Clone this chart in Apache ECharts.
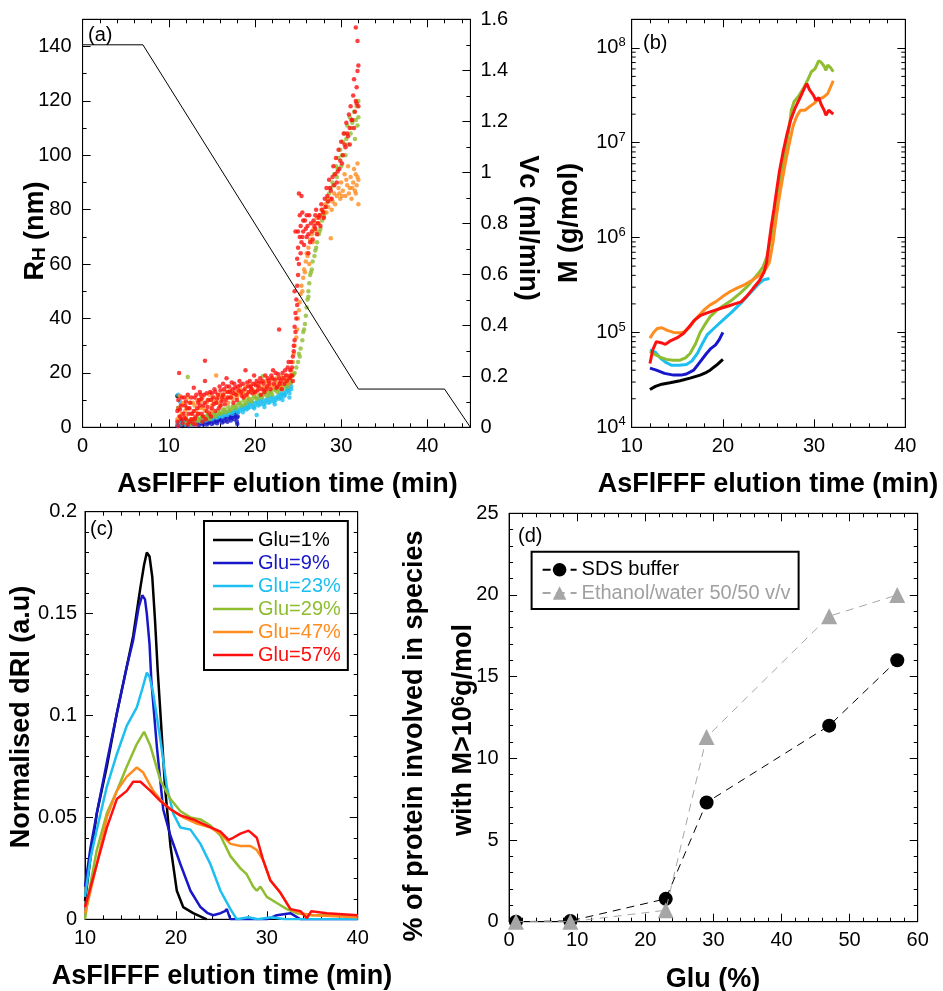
<!DOCTYPE html>
<html><head><meta charset="utf-8">
<script src="https://cdn.jsdelivr.net/npm/echarts@6.0.0/dist/echarts.min.js"></script>
<style>html,body{margin:0;padding:0;background:#fff}#c{width:943px;height:991px}</style>
</head><body><div id="c"></div><script>
// ---------- DATA ----------
const gluNames = ['Glu=1%', 'Glu=9%', 'Glu=23%', 'Glu=29%', 'Glu=47%', 'Glu=57%'];
const gluColors = ['#000000', '#1717c9', '#1cbff0', '#8fbd30', '#ff8c1f', '#ff1010'];

const rhGlu1 = [[11.0,11.5],[11.1,7],[11.2,1],[11.4,2.5],[11.6,0.5]];
const rhGlu9 = [[11.0,0.5],[11.2,1.5],[11.4,0.8],[11.7,2],[12.0,1],[12.3,0.5],[12.6,1.8],[12.9,1],[13.2,2.2],[13.5,0.8],[13.8,1.5],[14.1,2.5],[14.4,1],[14.7,2],[15.0,1.2],[15.3,2.8],[15.6,1.5],[15.9,3],[16.2,1.8],[16.5,3.5],[16.8,2],[17.0,4],[17.2,2.5],[17.4,5],[17.6,3],[17.8,5.5],[17.9,2],[18.0,4],
  [11.1,1],[11.5,1.5],[11.9,1.5],[12.2,1.2],[12.5,1],[12.8,2],[13.1,1.5],[13.4,1.8],[13.7,2],[14.0,1],[14.3,2],[14.6,1.5],[14.9,2.5],[15.2,1.8],[15.5,2.2],[15.8,2.5],[16.1,2.8],[16.4,2.2],[16.7,3],[17.1,3.5],[17.3,3.5],[17.5,4.2],[17.7,4.5],[17.9,3.5],[18.0,5.5],[17.95,1.2]];
const rhGlu23 = [[11.0,1],[11.1,12],[11.2,2],[11.3,9.5],[11.5,1.5],[11.8,2.5],[12.0,1],[12.3,2],[12.6,1.5],[12.9,2.5],[13.2,2],[13.5,3],[13.8,2.5],[14.1,3.5],[14.4,3],[14.7,4],[15.0,3],[15.3,4.5],[15.6,3.5],[15.9,5],[16.2,4],[16.5,5.5],[16.8,4.5],[17.1,6],[17.4,5],[17.7,6.5],[18.0,5.5],[18.3,7],[18.6,6.5],[18.9,8],[19.2,7],[19.5,8.5],[19.8,7.5],[20.1,9],[20.2,4.5],[20.4,8],[20.7,9.5],[21.0,8.5],[21.3,10],[21.6,9],[21.9,10.5],[22.2,9.5],[22.5,11],[22.8,10.5],[23.1,12],[23.4,11.5],[23.6,13],[23.8,14.5],[24.0,12.5],[24.1,16],[24.2,14],
  [11.4,1],[11.7,1.5],[12.1,2],[12.5,1],[12.8,2],[13.1,1.5],[13.4,2.5],[13.7,2],[14.0,3],[14.3,2.5],[14.6,3.5],[14.9,3.5],[15.2,3.5],[15.5,4],[15.8,4],[16.1,4.5],[16.4,4.5],[16.7,5],[17.0,5.5],[17.3,5.5],[17.6,6],[17.9,6.5],[18.2,6],[18.5,7.5],[18.8,7],[19.1,8],[19.4,7.5],[19.7,9],[20.0,8],[20.3,9.5],[20.6,8.5],[20.9,10],[21.2,9],[21.5,10.5],[21.8,9.5],[22.1,11],[22.4,10],[22.7,11.5],[23.0,11],[23.3,12.5],[23.5,12],[23.7,14],[23.9,13.5],[24.2,15],
  [18.6,5.5],[19.0,6.5],[19.3,9],[19.9,7],[20.5,10.5],[21.1,7.5],[21.7,11.5],[22.3,8.5],[22.9,12.5],[23.2,10],[23.6,15.5],[24.0,11]];
const rhGlu29 = [[12.0,1.5],[12.2,2.5],[12.2,18.5],[12.5,1],[12.8,3],[13.0,2],[13.3,3.5],[13.6,2.5],[13.9,4],[14.2,3],[14.5,4.5],[14.8,3.5],[15.1,5],[15.4,4],[15.7,6],[16.0,5],[16.3,6.5],[16.6,5.5],[16.9,7.5],[17.2,6.5],[17.5,8],[17.8,7],[18.1,9],[18.4,8],[18.7,10],[19.0,9],[19.3,10.5],[19.6,9.5],[19.9,11.5],[20.2,10.5],[20.5,12],[20.9,18.8],[20.8,11],[21.1,12.5],[21.4,11.5],[21.7,13],[22.0,12],[22.3,14],[22.6,13],[22.9,15],[23.2,14],[23.5,16],[23.8,15],[24.0,17.5],[24.2,16.5],[24.4,19],[24.6,20],[24.8,22],[25.0,24],[25.1,27],[25.3,29],[25.5,32],[25.6,35],[25.8,38],[25.9,41],[26.0,44],[26.1,47],[26.2,50],[26.3,53],[26.4,56],[26.6,58],[26.7,61],[26.9,63],[27.0,65],[27.2,68],[27.4,71],[27.6,73],[27.8,76],[28.0,78],[28.2,81],[28.4,83],[28.6,86],[28.8,88],[29.0,90],[29.2,93],[29.4,96],[29.5,92],[29.7,99],[29.9,102],[30.0,96],[30.2,105],[30.4,108],[30.5,100],[30.7,111],[30.8,104],[31.0,114],[31.1,108],[31.3,112],[31.5,116],[31.6,106],[31.8,118],[31.9,111],[32.0,120],[32.0,114],
  [12.4,2],[12.9,1.5],[13.4,2.5],[13.8,3.5],[14.3,4],[14.7,3],[15.2,4.5],[15.6,5],[16.1,5.5],[16.5,6.5],[17.0,6],[17.4,7.5],[17.9,8],[18.3,9],[18.8,8.5],[19.2,10],[19.7,10.5],[20.1,11],[20.6,11.5],[21.0,12],[21.5,12.5],[21.9,13],[22.4,13.5],[22.8,14],[23.3,15],[23.7,16],[24.1,18],[24.5,19.5],[25.2,26],[25.7,36],[26.2,48],[26.5,57],[27.1,66],[27.5,72],[28.1,79],[28.5,84],[29.1,89],[29.6,95],[30.1,100],[30.6,106],[31.2,110],[31.7,113]];
const rhGlu47 = [[11.0,3],[11.1,7],[11.3,11.5],[11.5,5],[11.7,9],[12.0,4],[12.2,11],[12.3,7],[12.6,5],[12.8,9],[13.1,6],[13.3,10],[13.6,7],[13.9,11],[14.2,6],[14.4,9],[14.7,12],[15.0,8],[15.3,11],[15.5,19],[15.6,9],[15.9,12],[16.2,10],[16.5,13],[16.8,11],[17.1,13.5],[17.4,10.5],[17.7,13],[18.0,12],[18.3,14],[18.6,12.5],[18.9,15],[19.2,13],[19.5,15.5],[19.8,13.5],[20.1,16],[20.4,14],[20.7,16.5],[21.0,14.5],[21.3,17],[21.6,15],[21.9,17.5],[22.2,15.5],[22.5,18],[22.8,16],[23.1,18.5],[23.4,17],[23.7,19],[24.0,18],[24.2,21],[24.4,24],[24.5,27],[24.6,30],[24.8,33],[24.9,36],[25.0,40],[25.1,43],[25.2,46],[25.3,49],[25.4,52],[25.6,55],[25.7,58],[25.9,61],[26.0,64],[26.2,66],[26.4,69],[26.6,71],[26.8,73],[27.0,75],[27.2,77],[27.5,78],[27.7,80],[28.0,79],[28.2,82],[28.5,81],[28.8,69.5],[28.7,84],[29.0,83],[29.2,86],[29.5,85],[29.7,88],[29.9,84],[30.0,90],[30.2,87],[30.4,93],[30.5,85],[30.7,89],[30.8,96],[31.0,88],[31.1,92],[31.2,84],[31.4,90],[31.5,95],[31.6,87],[31.7,93],[31.8,89],[31.9,97],[32.0,82],[32.0,91],
  [11.2,4],[11.6,8],[11.9,6],[12.4,9],[12.7,3],[13.0,8],[13.4,5],[13.7,9.5],[14.0,7],[14.5,10],[14.9,6],[15.2,9.5],[15.8,11],[16.0,8],[16.4,11.5],[16.9,9],[17.3,12],[17.9,11],[18.2,12.5],[18.7,13.5],[19.1,11.5],[19.6,14],[20.0,12.5],[20.5,15],[21.1,13.5],[21.5,16],[22.0,14.5],[22.6,16.5],[23.0,15],[23.6,17.5],[23.9,16],[24.3,19],[25.5,50],[25.8,57],[26.1,63],[26.3,60],[26.7,68],[27.1,72],[27.4,75],[27.9,77],[28.3,79],[28.9,80],[29.3,82],[29.8,86],[30.1,85],[30.6,91],[30.9,86],[31.3,88],[31.7,86],[31.9,92]];
const rhGlu57 = [[11.0,2],[11.0,6],[11.1,10],[11.1,0.5],[11.2,20],[11.3,4],[11.4,8],[11.5,3],[11.6,1.5],[11.7,5],[11.8,11],[11.9,8],[12.0,3],[12.1,7],[12.2,12],[12.3,5],[12.4,2],[12.5,9],[12.6,11],[12.7,5],[12.8,1.5],[12.9,14.5],[13.0,11],[13.1,4],[13.2,1],[13.3,7],[13.4,9],[13.5,10],[13.6,13],[13.7,12],[13.8,5],[13.9,2],[14.0,8],[14.1,12],[14.2,17],[14.2,24.5],[14.3,3],[14.4,6],[14.6,10],[14.8,13],[14.9,4],[15.0,7],[15.1,11],[15.3,14],[15.4,6],[15.5,9],[15.7,12],[15.9,15],[16.0,8],[16.2,11],[16.3,16],[16.4,14],[16.6,10],[16.7,18],[16.8,13],[17.0,15],[17.2,11],[17.4,14],[17.5,9],[17.6,16],[17.8,12],[18.0,15],[18.2,17],[18.4,13],[18.6,16],[18.7,11],[18.9,21],[19.0,12],[19.2,15],[19.4,17],[19.6,14],[19.8,16],[19.9,19],[20.0,13],[20.2,17],[20.4,15],[20.6,18],[20.8,14],[21.0,16],[21.1,13],[21.2,19],[21.4,15],[21.6,17],[21.8,14],[22.0,18],[22.1,21],[22.2,16],[22.4,20],[22.6,15],[22.8,36],[22.8,18],[23.0,17],[23.1,14],[23.2,20],[23.4,16],[23.6,19],[23.8,22],[23.9,24],[24.0,18],[24.1,21],[24.2,24],[24.3,19],[24.4,26],[24.5,28],[24.6,32],[24.6,37],[24.6,50],[24.7,42],[24.7,72],[24.8,47],[24.9,52],[24.9,62],[25.0,66],[25.0,72],[25.0,56],[25.1,86],[25.2,70],[25.2,78],[25.3,74],[25.4,85],[25.4,68],[25.5,79],[25.6,72],[25.8,76],[26.0,70],[26.1,74],[26.3,78],[26.4,68],[26.6,72],[26.8,76],[27.0,73],[27.1,80],[27.3,75],[27.5,78],[27.7,82],[27.9,79],[28.1,84],[28.3,88],[28.5,83],[28.6,91],[28.8,87],[29.0,92],[29.1,96],[29.2,89],[29.4,99],[29.6,94],[29.7,102],[29.9,98],[30.0,105],[30.2,100],[30.3,108],[30.5,103],[30.6,112],[30.8,107],[30.9,115],[31.0,110],[31.1,118],[31.3,113],[31.4,122],[31.5,128],[31.6,116],[31.7,147],[31.7,120],[31.8,125],[31.9,142],[31.9,131],[32.0,133],[32.0,118],
  [11.3,6.5],[11.5,11],[11.8,3.5],[12.0,9.5],[12.2,1],[12.4,7],[12.6,3],[12.9,6],[13.0,3],[13.2,12],[13.4,5],[13.6,8],[13.8,10.5],[14.0,4],[14.2,9],[14.4,12.5],[14.5,7.5],[14.7,5],[14.9,10],[15.0,12.5],[15.2,8.5],[15.4,13],[15.6,10.5],[15.8,7],[16.0,13.5],[16.1,9.5],[16.3,12],[16.5,8.5],[16.7,15],[16.9,11],[17.1,13],[17.3,16.5],[17.5,12.5],[17.7,14.5],[17.9,10],[18.1,13.5],[18.3,15.5],[18.5,11.5],[18.8,14],[19.1,16.5],[19.3,13],[19.5,15],[19.7,12.5],[20.1,15.5],[20.3,13.5],[20.5,16.5],[20.7,12],[20.9,17],[21.3,14],[21.5,18],[21.7,16],[21.9,19],[22.3,17.5],[22.5,14.5],[22.7,19.5],[22.9,16],[23.3,18],[23.5,21],[23.7,17],[24.1,19],[24.3,22],[24.4,17],
  [25.3,64],[25.5,70],[25.6,76],[25.7,67],[25.9,73],[26.0,78],[26.2,64],[26.2,71],[26.5,75],[26.7,69],[26.9,74],[27.0,78],[27.2,71],[27.4,77],[27.6,74],[27.8,80],[28.0,77],[28.2,81],[28.4,85],[28.7,88],[28.9,84],[29.3,93],[29.5,90],[29.8,95],[30.1,97],[30.4,104],[30.7,108],[31.0,104],[31.2,113],[31.5,110],[31.8,119],[25.1,60],[24.9,45],[24.8,40],[24.7,35],[24.5,30]];
const rhSeries = [rhGlu1, rhGlu9, rhGlu23, rhGlu29, rhGlu47, rhGlu57];

const vcTime = [0, 7, 32, 42, 45];
const vcFlow = [1.5, 1.5, 0.15, 0.15, 0];

const mGlu1 = [[12.0,2.5e4],[12.6,2.7e4],[13.3,2.85e4],[14.2,2.95e4],[15.3,3.1e4],[16.4,3.3e4],[17.5,3.55e4],[18.2,3.8e4],[18.6,4.0e4],[19.0,4.3e4],[19.4,4.6e4],[19.7,4.9e4],[20.0,5.2e4]];
const mGlu9 = [[12.0,4.2e4],[12.7,4.0e4],[13.6,3.7e4],[14.6,3.55e4],[15.4,3.55e4],[16.0,3.65e4],[16.8,4.0e4],[17.5,4.9e4],[18.2,6.0e4],[18.7,6.8e4],[19.2,7.4e4],[19.6,8.4e4],[20.0,1.0e5]];
const mGlu23 = [[12.0,6.5e4],[12.6,6.2e4],[13.2,5.3e4],[13.8,4.8e4],[14.4,4.5e4],[15.2,4.5e4],[16.0,4.6e4],[16.6,5.0e4],[17.2,6.0e4],[17.8,7.8e4],[18.3,9.5e4],[19.0,1.1e5],[20.0,1.35e5],[21.0,1.65e5],[22.0,2.05e5],[23.0,2.6e5],[24.0,3.3e5],[24.5,3.6e5],[25.1,3.7e5]];
const mGlu29 = [[12.0,6.3e4],[12.5,5.9e4],[13.1,5.5e4],[13.8,5.2e4],[14.5,5.1e4],[15.3,5.1e4],[15.9,5.4e4],[16.4,6.0e4],[17.0,7.6e4],[17.5,1.0e5],[18.0,1.2e5],[18.6,1.47e5],[19.3,1.7e5],[20.0,1.9e5],[21.0,2.2e5],[21.9,2.6e5],[22.6,3.0e5],[23.3,3.6e5],[23.9,4.2e5],[24.4,4.9e5],[24.8,6.2e5],[25.2,9e5],[25.5,1.4e6],[25.8,2.2e6],[26.1,3.3e6],[26.4,4.6e6],[26.7,6.5e6],[27.0,1.0e7],[27.3,1.5e7],[27.5,2.2e7],[27.8,2.7e7],[28.3,3.1e7],[28.8,3.7e7],[29.3,4.6e7],[29.7,5.6e7],[30.1,6.0e7],[30.5,7.3e7],[30.8,7.0e7],[31.1,6.4e7],[31.3,5.8e7],[31.5,6.6e7],[31.8,6.2e7],[32.1,5.6e7]];
const mGlu47 = [[12.0,8.7e4],[12.4,1.0e5],[12.8,1.1e5],[13.3,1.12e5],[13.9,1.05e5],[14.6,1.0e5],[15.3,0.99e5],[15.8,1.02e5],[16.4,1.15e5],[16.9,1.35e5],[17.5,1.55e5],[18.0,1.75e5],[18.6,1.95e5],[19.2,2.1e5],[20.0,2.4e5],[20.8,2.7e5],[21.6,2.95e5],[22.4,3.2e5],[23.2,3.55e5],[24.0,4.0e5],[24.6,4.5e5],[25.1,5.5e5],[25.5,9e5],[25.8,1.5e6],[26.1,2.4e6],[26.5,4.0e6],[26.9,6.5e6],[27.3,1.0e7],[27.7,1.5e7],[28.1,1.9e7],[28.5,2.2e7],[29.0,2.2e7],[29.5,2.4e7],[30.0,2.6e7],[30.5,2.9e7],[31.0,3.0e7],[31.5,3.3e7],[32.1,4.5e7]];
const mGlu57 = [[12.0,4.7e4],[12.3,6.5e4],[12.7,8.0e4],[13.2,7.8e4],[13.7,7.5e4],[14.3,8.2e4],[15.0,8.8e4],[15.7,9.8e4],[16.3,1.15e5],[16.9,1.35e5],[17.5,1.5e5],[18.2,1.6e5],[19.0,1.7e5],[19.8,1.8e5],[20.6,1.9e5],[21.3,2.0e5],[22.0,2.1e5],[22.6,2.4e5],[23.3,2.9e5],[24.0,3.5e5],[24.5,4.3e5],[24.8,5.5e5],[25.0,8e5],[25.3,1.3e6],[25.6,2.0e6],[25.9,3.2e6],[26.2,5.0e6],[26.6,8.0e6],[27.0,1.2e7],[27.4,1.7e7],[27.9,2.3e7],[28.4,2.9e7],[28.9,3.7e7],[29.2,4.2e7],[29.5,3.6e7],[29.9,3.2e7],[30.2,2.8e7],[30.5,3.0e7],[30.8,2.5e7],[31.1,2.2e7],[31.3,1.95e7],[31.6,2.2e7],[31.8,2.1e7],[32.1,2.0e7]];
const mSeries = [mGlu1, mGlu9, mGlu23, mGlu29, mGlu47, mGlu57];

const dGlu1 = [[10.0,0.009],[10.6,0.03],[11.3,0.052],[12.4,0.075],[13.5,0.101],[14.6,0.124],[15.3,0.139],[16.1,0.163],[16.5,0.174],[16.8,0.180],[17.1,0.178],[17.4,0.168],[17.7,0.147],[18.0,0.122],[18.3,0.101],[18.8,0.065],[19.4,0.036],[20.1,0.014],[20.8,0.006],[21.9,0.003],[23.4,0.0]];
const dGlu9 = [[10.0,0.016],[10.6,0.035],[11.3,0.052],[12.4,0.077],[13.5,0.101],[14.6,0.124],[15.3,0.137],[15.9,0.153],[16.3,0.159],[16.6,0.157],[16.8,0.150],[17.1,0.135],[17.3,0.117],[17.9,0.085],[18.6,0.054],[19.4,0.041],[20.5,0.027],[21.6,0.014],[22.7,0.006],[23.5,0.003],[24.1,0.002],[24.9,0.003],[25.4,0.004],[25.6,0.005],[26.0,0.0],[30.0,0.0],[31.1,0.002],[32.6,0.003],[33.7,0.0],[40.0,0.0]];
const dGlu23 = [[10.0,0.011],[10.6,0.03],[11.3,0.044],[12.4,0.065],[13.5,0.081],[14.6,0.095],[15.7,0.104],[16.3,0.113],[16.8,0.121],[17.1,0.119],[17.5,0.111],[18.3,0.088],[19.0,0.065],[19.7,0.052],[20.5,0.045],[21.6,0.044],[22.7,0.037],[23.8,0.027],[24.9,0.014],[26.0,0.005],[26.7,0.0],[28.0,0.001],[29.0,0.0],[30.5,0.001],[32.0,0.0],[40.0,0.0]];
const dGlu29 = [[10.0,0.0],[10.5,0.015],[11.3,0.034],[12.4,0.052],[13.5,0.063],[14.6,0.075],[15.7,0.086],[16.5,0.092],[17.2,0.085],[18.3,0.068],[19.4,0.059],[20.5,0.053],[21.6,0.050],[22.7,0.049],[23.8,0.046],[24.9,0.041],[26.0,0.031],[27.1,0.025],[27.8,0.022],[28.5,0.016],[28.9,0.014],[29.3,0.016],[30.0,0.011],[31.1,0.008],[32.2,0.005],[33.3,0.003],[35.0,0.002],[40.0,0.002]];
const dGlu47 = [[10.0,0.003],[10.5,0.012],[11.3,0.027],[12.4,0.050],[13.5,0.063],[14.6,0.070],[15.7,0.0745],[16.4,0.072],[17.5,0.063],[18.6,0.057],[19.7,0.053],[20.8,0.050],[22.3,0.047],[23.8,0.045],[24.9,0.042],[26.0,0.037],[27.1,0.036],[28.2,0.036],[28.9,0.034],[29.6,0.029],[30.4,0.019],[31.5,0.013],[32.6,0.005],[33.7,0.003],[35.1,0.002],[40.0,0.001]];
const dGlu57 = [[10.0,0.006],[10.5,0.014],[11.3,0.027],[12.4,0.045],[13.5,0.059],[14.6,0.063],[15.3,0.0675],[16.1,0.0675],[17.2,0.063],[18.3,0.058],[19.4,0.054],[20.5,0.051],[21.9,0.049],[23.4,0.046],[24.9,0.043],[25.8,0.039],[26.3,0.040],[27.1,0.042],[28.0,0.0435],[28.9,0.040],[29.6,0.029],[30.4,0.019],[31.5,0.013],[32.6,0.005],[33.7,0.004],[34.4,0.0005],[34.9,0.004],[36.6,0.003],[40.0,0.002]];
const dSeries = [dGlu1, dGlu9, dGlu23, dGlu29, dGlu47, dGlu57];

const gluPct = [1, 9, 23, 29, 47, 57];
const sdsPct = [0, 0.05, 1.4, 7.3, 12.0, 16.0];
const ethPct = [0, 0, 0.7, 11.3, 18.7, 20.0];

// ---------- CHART ----------
const FONT = '"Liberation Sans", Arial, Helvetica, sans-serif';
const chart = echarts.init(document.getElementById('c'));

function ax(o) {
  const a = {
    type: o.type || 'value', gridIndex: o.g, position: o.pos,
    min: o.min, max: o.max,
    axisLine: {show: true, onZero: false, lineStyle: {color: '#000', width: 1}},
    axisTick: {show: true, inside: true, length: 8, lineStyle: {color: '#000', width: 1}},
    minorTick: {show: !!o.minor, splitNumber: o.minor || 5, length: 4, lineStyle: {color: '#000', width: 1}},
    splitLine: {show: false},
    axisLabel: {show: !!o.label, color: '#000', fontFamily: FONT, fontSize: 20, margin: o.margin || 9}
  };
  if (o.interval != null) a.interval = o.interval;
  if (o.hideAbove != null) a.axisLabel.formatter = v => (v > o.hideAbove ? '' : String(v));
  if (o.formatter) a.axisLabel.formatter = o.formatter;
  if (o.rich) a.axisLabel.rich = o.rich;
  return a;
}
const xAxis = [
  ax({g: 0, pos: 'bottom', min: 0, max: 45, interval: 10, minor: 5, label: true, hideAbove: 40}),
  ax({g: 0, pos: 'top', min: 0, max: 45, interval: 10, minor: 5}),
  ax({g: 1, pos: 'bottom', min: 10, max: 40, interval: 10, minor: 5, label: true}),
  ax({g: 1, pos: 'top', min: 10, max: 40, interval: 10, minor: 5}),
  ax({g: 2, pos: 'bottom', min: 10, max: 40, interval: 10, minor: 5, label: true}),
  ax({g: 2, pos: 'top', min: 10, max: 40, interval: 10, minor: 5}),
  ax({g: 3, pos: 'bottom', min: 0, max: 60, interval: 10, minor: 5, label: true, margin: 8.5}),
  ax({g: 3, pos: 'top', min: 0, max: 60, interval: 10, minor: 5})
];
const logFmt = v => {
  const e = Math.log10(v);
  if (Math.abs(e - Math.round(e)) > 1e-6) return '';
  return '{b|10}{s|' + Math.round(e) + '}';
};
const logRich = {
  b: {fontFamily: FONT, fontSize: 20, lineHeight: 20, color: '#000'},
  s: {fontFamily: FONT, fontSize: 13, lineHeight: 13, padding: [0, 0, 11, 0], color: '#000'}
};
const yAxis = [
  ax({g: 0, pos: 'left', min: 0, max: 150, interval: 20, minor: 2, label: true, hideAbove: 140, margin: 11}),
  ax({g: 0, pos: 'right', min: 0, max: 1.6, interval: 0.2, minor: 2, label: true, margin: 10}),
  ax({g: 1, type: 'log', pos: 'left', min: 1e4, max: 2e8, label: true, margin: 6, formatter: logFmt, rich: logRich}),
  ax({g: 1, type: 'log', pos: 'right', min: 1e4, max: 2e8}),
  ax({g: 2, pos: 'left', min: 0, max: 0.2, interval: 0.05, minor: 5, label: true, margin: 8}),
  ax({g: 2, pos: 'right', min: 0, max: 0.2, interval: 0.05, minor: 5}),
  ax({g: 3, pos: 'left', min: 0, max: 25, interval: 5, minor: 5, label: true, margin: 10.5}),
  ax({g: 3, pos: 'right', min: 0, max: 25, interval: 5, minor: 5})
];
const gridBase = {show: true, borderColor: '#000', borderWidth: 1, backgroundColor: 'transparent'};
const grid = [
  Object.assign({left: 82.6, top: 19.3, width: 387.8, height: 408}, gridBase),
  Object.assign({left: 631.7, top: 19.3, width: 273.6, height: 408}, gridBase),
  Object.assign({left: 85, top: 511.7, width: 272.7, height: 407.6}, gridBase),
  Object.assign({left: 509.1, top: 513.3, width: 408.6, height: 408.4}, gridBase)
];

const series = [];
rhSeries.forEach((d, i) => series.push({
  name: 'RH ' + gluNames[i], type: 'scatter', xAxisIndex: 0, yAxisIndex: 0,
  data: d, symbol: 'circle', symbolSize: 4.5, itemStyle: {color: gluColors[i]}, silent: true, z: 2 + i
}));
series.push({
  name: 'Vc', type: 'line', xAxisIndex: 0, yAxisIndex: 1,
  data: vcTime.map((t, i) => [t, vcFlow[i]]), symbol: 'none',
  lineStyle: {color: '#000', width: 1}, z: 10, silent: true
});
mSeries.forEach((d, i) => series.push({
  name: 'M ' + gluNames[i], type: 'line', xAxisIndex: 2, yAxisIndex: 2,
  data: d, symbol: 'none', lineStyle: {color: gluColors[i], width: 3}, z: 2 + i, silent: true
}));
dSeries.forEach((d, i) => series.push({
  name: gluNames[i], type: 'line', xAxisIndex: 4, yAxisIndex: 4,
  data: d, symbol: 'none', lineStyle: {color: gluColors[i], width: 2.5}, itemStyle: {color: gluColors[i]},
  z: 2 + i, silent: true
}));
series.push({
  name: 'SDS buffer', type: 'line', xAxisIndex: 6, yAxisIndex: 6,
  data: gluPct.map((g, i) => [g, sdsPct[i]]), symbol: 'circle', symbolSize: 14,
  itemStyle: {color: '#000'}, lineStyle: {color: '#000', width: 1, type: [8, 6]}, z: 3, silent: true
});
series.push({
  name: 'Ethanol/water 50/50 v/v', type: 'line', xAxisIndex: 6, yAxisIndex: 6,
  data: gluPct.map((g, i) => [g, ethPct[i]]), symbol: 'triangle', symbolSize: 16,
  itemStyle: {color: '#a6a6a6'}, lineStyle: {color: '#a6a6a6', width: 1, type: [8, 6]}, z: 4, silent: true
});

const legend = [
  {
    left: 204, top: 521, orient: 'vertical', align: 'left', selectedMode: false,
    padding: [9, 7, 5, 9], itemGap: 3, itemWidth: 40, itemHeight: 2.5, icon: 'rect',
    borderColor: '#000', borderWidth: 2, backgroundColor: '#fff',
    textStyle: {fontFamily: FONT, fontSize: 20, lineHeight: 20},
    data: gluNames.map((n, i) => ({name: n, textStyle: {color: gluColors[i]}}))
  },
  {
    left: 531.6, top: 551.7, orient: 'vertical', align: 'left', selectedMode: false,
    padding: [8, 8, 6, 10], itemGap: 3.3, itemWidth: 34, itemHeight: 17,
    borderColor: '#000', borderWidth: 2, backgroundColor: '#fff',
    textStyle: {fontFamily: FONT, fontSize: 20, lineHeight: 20},
    data: [{name: 'SDS buffer', textStyle: {color: '#000'}},
           {name: 'Ethanol/water 50/50 v/v', textStyle: {color: '#a0a0a0'}}]
  }
];

function txt(x, y, text, size, bold, rot, rich, align) {
  const st = {
    text: text, fill: '#000',
    font: (bold ? 'bold ' : '') + size + 'px ' + FONT,
    align: align || 'center', verticalAlign: 'middle'
  };
  if (rich) st.rich = rich;
  return {type: 'text', x: x, y: y, rotation: rot || 0, silent: true, style: st};
}
const R90 = Math.PI / 2;
const titleRichSub = {
  m: {fontFamily: FONT, fontWeight: 'bold', fontSize: 27, lineHeight: 27, verticalAlign: 'top', fill: '#000'},
  sub: {fontFamily: FONT, fontWeight: 'bold', fontSize: 19, lineHeight: 19, padding: [20, 0, 0, 0], verticalAlign: 'bottom', fill: '#000'}
};
const titleRichSup = {
  m: {fontFamily: FONT, fontWeight: 'bold', fontSize: 27, lineHeight: 27, padding: [4, 0, 0, 0], verticalAlign: 'bottom', fill: '#000'},
  sup: {fontFamily: FONT, fontWeight: 'bold', fontSize: 18, lineHeight: 18, verticalAlign: 'top', fill: '#000'}
};
const graphicText = [
  txt(88, 35, '(a)', 20, false, 0, null, 'left'),
  txt(643, 43, '(b)', 20, false, 0, null, 'left'),
  txt(90, 529, '(c)', 20, false, 0, null, 'left'),
  txt(518, 536, '(d)', 20, false, 0, null, 'left'),
  txt(287.5, 485, 'AsFlFFF elution time (min)', 27, true),
  txt(768, 485, 'AsFlFFF elution time (min)', 27, true),
  txt(222, 977, 'AsFlFFF elution time (min)', 27, true),
  txt(713, 980, 'Glu (%)', 27, true),
  txt(36, 231, '{m|R}{sub|H}{m| (nm)}', 27, true, R90, titleRichSub),
  txt(527, 228, 'Vc (ml/min)', 27, true, -R90),
  txt(570, 223, 'M (g/mol)', 27, true, R90),
  txt(22, 717, 'Normalised dRI (a.u)', 27, true, R90),
  txt(415, 736, '% of protein involved in species', 27, true, R90),
  txt(464, 730, '{m|with M>10}{sup|6}{m|g/mol}', 27, true, R90, titleRichSup)
];

chart.setOption({animation: false, grid, xAxis, yAxis, series, legend, graphic: graphicText});

// extra log-decade minor ticks for panel (b), placed through the log axis itself
try {
  const logMinor = [];
  for (let e = 4; e < 8; e++) for (let k = 2; k <= 9; k++) logMinor.push(k * Math.pow(10, e));
  const rects = [];
  logMinor.forEach(v => {
    const l = chart.convertToPixel({seriesIndex: 7}, [10, v]);
    const r = chart.convertToPixel({seriesIndex: 7}, [40, v]);
    if (!l || !r) return;
    rects.push({type: 'rect', silent: true, shape: {x: l[0], y: l[1] - 0.5, width: 4, height: 1}, style: {fill: '#000'}});
    rects.push({type: 'rect', silent: true, shape: {x: r[0] - 4, y: r[1] - 0.5, width: 4, height: 1}, style: {fill: '#000'}});
  });
  chart.setOption({graphic: graphicText.concat(rects)});
} catch (e) { /* keep chart as is */ }
</script></blockquote></body></html>
